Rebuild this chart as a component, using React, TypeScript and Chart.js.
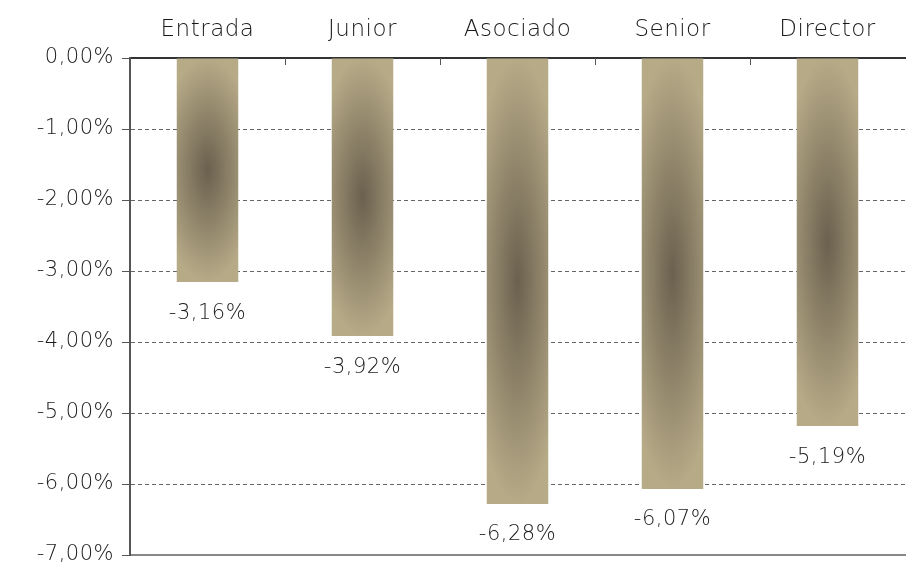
import React, { useEffect, useRef } from "react";
import { Chart, registerables } from "chart.js";

Chart.register(...registerables);

const categories = ["Entrada", "Junior", "Asociado", "Senior", "Director"];
const values = [-3.16, -3.92, -6.28, -6.07, -5.19];
const yMin = -7;
const yMax = 0;
const yStep = 1;

const FONT = "'DejaVu Sans', sans-serif";
const WEIGHT = 200;
const SPACING = "0.5px";
const CENTER_RGB = [106, 96, 78];
const EDGE_RGB = [182, 170, 135];
const EDGE_CSS = `rgb(${EDGE_RGB.join(",")})`;

const fmt = (v: number) => (Math.abs(v) < 1e-9 ? 0 : v).toFixed(2).replace(".", ",") + "%";

function makeBarPattern(chart: any, index: number, value: number) {
  const xs = chart.scales.x;
  const ys = chart.scales.y;
  if (!xs || !ys) return EDGE_CSS;
  const cat = xs.width / categories.length;
  const cx = xs.getPixelForValue(index);
  const p0 = ys.getPixelForValue(0);
  const p1 = ys.getPixelForValue(value);
  if (![cat, cx, p0, p1].every((n) => Number.isFinite(n)) || cat <= 0) return EDGE_CSS;
  const w = Math.max(2, Math.round(cat * 0.4));
  const top = Math.min(p0, p1);
  const h = Math.max(2, Math.round(Math.abs(p1 - p0)));
  const left = cx - w / 2;
  const off = document.createElement("canvas");
  off.width = w;
  off.height = h;
  const octx = off.getContext("2d")!;
  const img = octx.createImageData(w, h);
  const hw = w / 2, hh = h / 2;
  for (let py = 0; py < h; py++) {
    for (let px = 0; px < w; px++) {
      const dx = (px + 0.5 - hw) / hw;
      const dy = (py + 0.5 - hh) / hh;
      const t = Math.min(1, Math.sqrt(0.4 * dx * dx + dy * dy));
      const k = (py * w + px) * 4;
      img.data[k] = CENTER_RGB[0] + (EDGE_RGB[0] - CENTER_RGB[0]) * t;
      img.data[k + 1] = CENTER_RGB[1] + (EDGE_RGB[1] - CENTER_RGB[1]) * t;
      img.data[k + 2] = CENTER_RGB[2] + (EDGE_RGB[2] - CENTER_RGB[2]) * t;
      img.data[k + 3] = 255;
    }
  }
  octx.putImageData(img, 0, 0);
  const pat = chart.ctx.createPattern(off, "no-repeat");
  if (!pat) return EDGE_CSS;
  pat.setTransform(new DOMMatrix([1, 0, 0, 1, left, top]));
  return pat;
}

const spacingPlugin = {
  id: "spacing",
  beforeInit(chart: any) {
    chart.ctx.letterSpacing = SPACING;
  },
  beforeLayout(chart: any) {
    chart.ctx.letterSpacing = SPACING;
  },
  beforeDraw(chart: any) {
    chart.ctx.letterSpacing = SPACING;
  },
};

const labelPlugin = {
  id: "barLabels",
  afterDatasetsDraw(chart: any) {
    const ctx = chart.ctx;
    const meta = chart.getDatasetMeta(0);
    ctx.save();
    ctx.font = `${WEIGHT} 21px ${FONT}`;
    ctx.letterSpacing = SPACING;
    ctx.fillStyle = "#1a1a1a";
    ctx.textAlign = "center";
    ctx.textBaseline = "middle";
    meta.data.forEach((el: any, i: number) => {
      ctx.fillText(fmt(values[i]), el.x, el.y + 31);
    });
    ctx.restore();
  },
};

const topTicksPlugin = {
  id: "topTicks",
  afterDraw(chart: any) {
    const xs = chart.scales.x;
    const ctx = chart.ctx;
    const y0 = chart.chartArea.top;
    ctx.save();
    ctx.strokeStyle = "#555";
    ctx.lineWidth = 1;
    for (let i = 1; i < categories.length; i++) {
      const x = Math.round((xs.getPixelForValue(i - 1) + xs.getPixelForValue(i)) / 2) + 0.5;
      ctx.beginPath();
      ctx.moveTo(x, y0);
      ctx.lineTo(x, y0 + 7);
      ctx.stroke();
    }
    ctx.restore();
  },
};

export default function App() {
  const ref = useRef<HTMLCanvasElement>(null);
  useEffect(() => {
    if (!ref.current) return;
    const chart = new Chart(ref.current, {
      type: "bar",
      data: {
        labels: categories,
        datasets: [
          {
            data: values,
            backgroundColor: (c: any) =>
              c.type === "data" ? makeBarPattern(c.chart, c.dataIndex, values[c.dataIndex]) : EDGE_CSS,
            borderWidth: 0,
            barPercentage: 0.4,
            categoryPercentage: 1,
          },
        ],
      },
      options: {
        animation: false,
        responsive: false,
        maintainAspectRatio: false,
        layout: { padding: { left: 0, right: 1, top: 0, bottom: 0 } },
        plugins: { legend: { display: false }, tooltip: { enabled: false } },
        scales: {
          x: {
            position: "top",
            offset: true,
            grid: { display: false, drawTicks: false },
            border: { display: true, color: "#333", width: 2 },
            ticks: { color: "#1a1a1a", font: { family: FONT, size: 23, weight: WEIGHT }, padding: 14 },
            afterFit: (s: any) => {
              s.height = 58;
              s.paddingLeft = 0;
              s.paddingRight = 0;
            },
          },
          x2: {
            type: "category",
            labels: categories,
            position: "bottom",
            grid: { display: false, drawTicks: false },
            border: { display: true, color: "#888", width: 2 },
            ticks: { display: false },
            afterFit: (s: any) => {
              s.height = 11;
              s.paddingLeft = 0;
              s.paddingRight = 0;
            },
          },
          y: {
            min: yMin,
            max: yMax,
            ticks: {
              stepSize: yStep,
              color: "#1a1a1a",
              font: { family: FONT, size: 21, weight: WEIGHT },
              padding: 8,
              callback: (v: any) => fmt(Number(v)),
            },
            grid: { color: "#666", lineWidth: 1, tickLength: 8, drawTicks: true, tickColor: "#555" },
            border: { display: true, color: "#555", width: 2, dash: [4, 3] },
            afterFit: (s: any) => {
              s.width = 130;
              s.paddingTop = 0;
              s.paddingBottom = 0;
            },
          },
        },
      },
      plugins: [spacingPlugin, labelPlugin, topTicksPlugin],
    });
    chart.update();
    return () => chart.destroy();
  }, []);
  return (
    <div style={{ position: "absolute", left: 0, top: 0, width: 906, height: 566, background: "#fff" }}>
      <canvas ref={ref} width={906} height={566} style={{ display: "block" }} />
    </div>
  );
}
